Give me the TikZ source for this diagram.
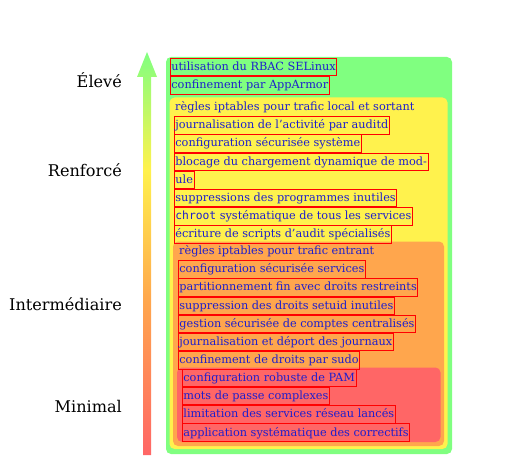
\documentclass[tikz,border=0pt]{standalone}
\usepackage{fontspec}
\setmainfont{DejaVu Serif}
\setmonofont{DejaVu Sans Mono}
\definecolor{lvlgreen}{RGB}{128,255,128}
\definecolor{lvlyellow}{RGB}{255,242,77}
\definecolor{lvlorange}{RGB}{255,166,77}
\definecolor{lvlred}{RGB}{255,102,102}
\definecolor{linkblue}{RGB}{30,30,205}
\pgfdeclareverticalshading{levelshade}{100bp}{color(0bp)=(lvlred); color(25bp)=(lvlred);
  color(44bp)=(lvlorange); color(60.5bp)=(lvlyellow); color(75bp)=(lvlgreen); color(100bp)=(lvlgreen)}
\tikzset{
  item/.style={anchor=north west, inner xsep=1pt, inner ysep=0.7pt,
    text height=11.5pt, text depth=4.5pt, text=linkblue,
    font=\fontsize{11.3}{13}\selectfont},
  link/.style={item, draw=red, line width=0.8pt},
  level/.style={anchor=east, inner sep=0pt, font=\fontsize{16.1}{18}\selectfont},
  zone/.style={rounded corners=5pt},
}
\begin{document}
\begin{tikzpicture}[x=1pt,y=1pt]
\useasboundingbox (0,0) rectangle (525,467);
% arrow of levels
\shade [shading=levelshade] (143,12) -- (143,390) -- (137,390) -- (147,415)
	-- (157,390) -- (151,390) -- (151,12) -- cycle;
\node [level] (high) at (122,387) {Élevé};
\node [level] (strong) at (122,297) {Renforcé};
\node [level] (medium) at (122,163) {Intermédiaire};
\node [level] (low) at (122,61) {Minimal};
% nested zones
\fill [zone,lvlgreen] (166,13) rectangle (452,410);
\fill [zone,lvlyellow] (169.5,18) rectangle (447.5,369.5);
\fill [zone,lvlorange] (173,21) rectangle (444,225.5);
\fill [zone,lvlred] (177,25) rectangle (440.5,99.5);
% high
\node [link] (h1) at (170,409) {utilisation du RBAC SELinux};
\node [link] (h2) at (h1.south west) {confinement par AppArmor};
% strong
\node [item] (s1) at (174,368.7) {règles iptables pour trafic local et sortant};
\node [link] (s2) at (s1.south west) {journalisation de l’activité par auditd};
\node [link] (s3) at (s2.south west) {configuration sécurisée système};
\node [link] (s4) at (s3.south west) {blocage du chargement dynamique de mod-};
\node [link] (s5) at (s4.south west) {ule};
\node [link] (s6) at (s5.south west) {suppressions des programmes inutiles};
\node [link] (s7) at (s6.south west) {\texttt{chroot} systématique de tous les services};
\node [link] (s8) at (s7.south west) {écriture de scripts d’audit spécialisés};
% medium
\node [item] (m1) at (178,224.7) {règles iptables pour trafic entrant};
\node [link] (m2) at (m1.south west) {configuration sécurisée services};
\node [link] (m3) at (m2.south west) {partitionnement fin avec droits restreints};
\node [link] (m4) at (m3.south west) {suppression des droits setuid inutiles};
\node [link] (m5) at (m4.south west) {gestion sécurisée de comptes centralisés};
\node [link] (m6) at (m5.south west) {journalisation et déport des journaux};
\node [link] (m7) at (m6.south west) {confinement de droits par sudo};
% low
\node [link] (l1) at (182,98.2) {configuration robuste de PAM};
\node [link] (l2) at (l1.south west) {mots de passe complexes};
\node [link] (l3) at (l2.south west) {limitation des services réseau lancés};
\node [link] (l4) at (l3.south west) {application systématique des correctifs};
\end{tikzpicture}
\end{document}
